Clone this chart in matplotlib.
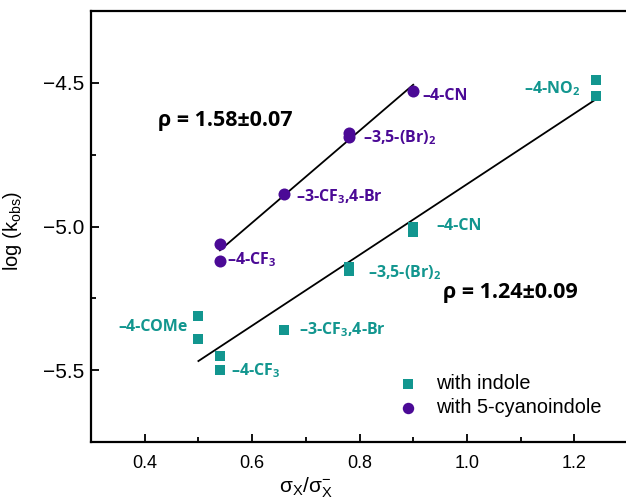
import numpy as np
import matplotlib
matplotlib.use("Agg")
import matplotlib.pyplot as plt
from matplotlib.ticker import MultipleLocator

plt.rcParams['font.family'] = ['Liberation Sans', 'DejaVu Sans']
plt.rcParams['mathtext.fontset'] = 'custom'
plt.rcParams['mathtext.rm'] = 'Liberation Sans'
plt.rcParams['mathtext.it'] = 'Liberation Sans:italic'
plt.rcParams['mathtext.bf'] = 'Open Sans:bold'

# ---- data ----
indole_x = [0.50, 0.50, 0.54, 0.54, 0.66, 0.78, 0.78, 0.90, 0.90, 1.24, 1.24]
indole_y = [-5.31, -5.39, -5.45, -5.50, -5.36, -5.14, -5.155, -5.00, -5.02, -4.49, -4.545]
cyano_x = [0.54, 0.54, 0.66, 0.78, 0.78, 0.90]
cyano_y = [-5.06, -5.12, -4.886, -4.675, -4.69, -4.53]

indole_labels = ["–4-COMe", "–4-CF$_\\mathbf{3}$", "–3-CF$_\\mathbf{3}$,4-Br",
                 "–3,5-(Br)$_\\mathbf{2}$", "–4-CN", "–4-NO$_\\mathbf{2}$"]
indole_label_x = [0.481, 0.561, 0.688, 0.815, 0.944, 1.211]
indole_label_y = [-5.35, -5.50, -5.36, -5.16, -5.00, -4.52]
indole_label_ha = ["right", "left", "left", "left", "left", "right"]

cyano_labels = ["–4-CF$_\\mathbf{3}$", "–3-CF$_\\mathbf{3}$,4-Br",
                "–3,5-(Br)$_\\mathbf{2}$", "–4-CN"]
cyano_label_x = [0.553, 0.682, 0.807, 0.918]
cyano_label_y = [-5.115, -4.895, -4.69, -4.545]

rho_texts = ["ρ = 1.58±0.07", "ρ = 1.24±0.09"]
rho_x = [0.425, 0.955]
rho_y = [-4.632, -5.23]

teal = "#12968f"
purple = "#4b0a96"

fig = plt.figure(figsize=(6.26, 5.01), dpi=100)
ax = fig.add_axes([91/626, 1-442/501, (628-91)/626, (442-11)/501])

ax.scatter(indole_x, indole_y, marker='s', s=58, color=teal, linewidths=0,
           label='with indole', zorder=3)
ax.scatter(cyano_x, cyano_y, marker='o', s=75, color=purple, linewidths=0,
           label='with 5-cyanoindole', zorder=3)

# linear fits
for xs, ys in [(indole_x, indole_y), (cyano_x, cyano_y)]:
    xs = np.array(xs); ys = np.array(ys)
    k, b = np.polyfit(xs, ys, 1)
    xx = np.array([xs.min(), xs.max()])
    ax.plot(xx, k*xx + b, color='black', lw=1.3, zorder=2)

bold = dict(fontfamily='Open Sans', fontweight='bold', fontsize=11.5)
for t, x, y, ha in zip(indole_labels, indole_label_x, indole_label_y, indole_label_ha):
    ax.text(x, y, t, color=teal, ha=ha, va='center', **bold)
for t, x, y in zip(cyano_labels, cyano_label_x, cyano_label_y):
    ax.text(x, y, t, color=purple, ha='left', va='center', **bold)
for t, x, y in zip(rho_texts, rho_x, rho_y):
    ax.text(x, y, t, color='black', ha='left', va='center',
            fontfamily='Open Sans', fontweight='bold', fontsize=15.5)

ax.set_xlim(0.3, 1.3)
ax.set_ylim(-5.75, -4.25)
ax.xaxis.set_major_locator(MultipleLocator(0.2))
ax.xaxis.set_minor_locator(MultipleLocator(0.1))
ax.yaxis.set_major_locator(MultipleLocator(0.5))
ax.yaxis.set_minor_locator(MultipleLocator(0.25))
ax.tick_params(which='both', direction='in', width=1.3)
ax.tick_params(which='major', length=6)
ax.tick_params(which='minor', length=3.5)
ax.tick_params(axis='x', pad=9, labelsize=13)
ax.tick_params(axis='y', pad=5, labelsize=15)
for s in ax.spines.values():
    s.set_linewidth(1.6)

ax.set_xlabel("σ$_\\mathrm{X}$/σ$_\\mathrm{X}^{-}$", fontsize=15)
ax.xaxis.set_label_coords(0.40, -0.078)
ax.set_ylabel("log (k$_\\mathrm{obs}$)", fontsize=14.5)
ax.yaxis.set_label_coords(-0.125, 0.49)

leg = ax.legend(loc='lower right', bbox_to_anchor=(0.965, 0.04), frameon=False,
                fontsize=14.3, handletextpad=0.9, labelspacing=0.25,
                handlelength=1.0, borderaxespad=0, markerscale=0.95)

fig.savefig("out.png", dpi=100)
